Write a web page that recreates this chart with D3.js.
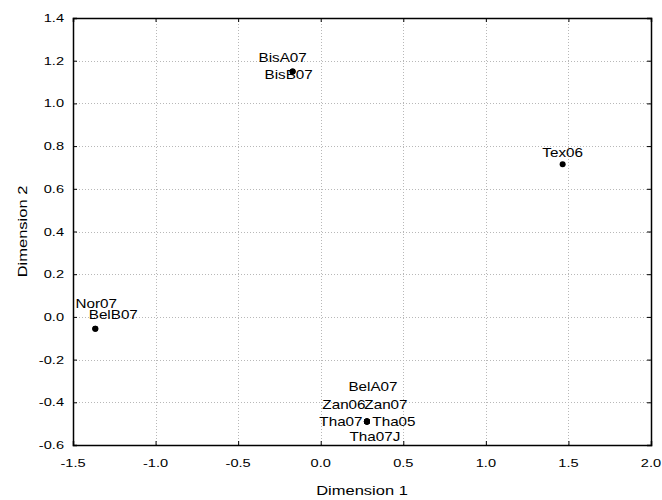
<!DOCTYPE html>
<html>
<head>
<meta charset="utf-8">
<script src="https://cdn.jsdelivr.net/npm/d3@7"></script>
<style>
  html, body { margin: 0; padding: 0; background: #fff; }
  svg { display: block; font-family: "Liberation Sans", Arial, sans-serif; }
</style>
</head>
<body>
<svg id="chart" width="662" height="500"></svg>
<script>
// ---- data ----
const names = ["BisA07", "BisB07", "Tex06", "Nor07", "BelB07",
               "BelA07", "Zan06", "Zan07", "Tha07", "Tha05", "Tha07J"];
const dim1 = [-0.17, -0.17, 1.465, -1.365, -1.365, 0.28, 0.28, 0.28, 0.28, 0.28, 0.28];
const dim2 = [1.15, 1.15, 0.715, -0.055, -0.055, -0.49, -0.49, -0.49, -0.49, -0.49, -0.49];
const xTicks = [-1.5, -1.0, -0.5, 0.0, 0.5, 1.0, 1.5, 2.0];
const yTicks = [-0.6, -0.4, -0.2, 0.0, 0.2, 0.4, 0.6, 0.8, 1.0, 1.2, 1.4];
const xTitle = "Dimension 1";
const yTitle = "Dimension 2";

// ---- layout (label offsets in px: centre x, baseline y relative to the point) ----
const labelDx = [-10, -4, 0, 1, 18, 6, -23, 19, -26, 27, 8];
const labelDy = [-9, 8, -7.5, -21, -10, -31, -13, -13, 4.5, 4.5, 19.5];

(function () {
const svg = d3.select("#chart");
const mLeft = 73, mRight = 651, mTop = 18, mBottom = 445;
const sx = 1.27; // horizontal text stretch

const x = d3.scaleLinear().domain([-1.5, 2.0]).range([mLeft, mRight]);
const y = d3.scaleLinear().domain([-0.6, 1.4]).range([mBottom, mTop]);

function stretchedText(g, px, py, str, size, anchor) {
  return g.append("text")
    .attr("transform", `translate(${px},${py}) scale(${sx},1)`)
    .attr("text-anchor", anchor)
    .attr("font-size", size)
    .attr("fill", "#000")
    .text(str);
}

// grid
const grid = svg.append("g");
grid.selectAll("line.gx").data(xTicks.slice(1, -1)).join("line")
  .attr("x1", d => Math.round(x(d)) + 0.5).attr("x2", d => Math.round(x(d)) + 0.5)
  .attr("y1", mTop).attr("y2", mBottom)
  .attr("stroke", "#b8b8b8").attr("stroke-width", 1).attr("stroke-dasharray", "1,2");
grid.selectAll("line.gy").data(yTicks.slice(1, -1)).join("line")
  .attr("y1", d => Math.round(y(d)) + 0.5).attr("y2", d => Math.round(y(d)) + 0.5)
  .attr("x1", mLeft).attr("x2", mRight)
  .attr("stroke", "#b8b8b8").attr("stroke-width", 1).attr("stroke-dasharray", "1,2");

// axes with inward ticks
const fmt = v => d3.format(".1f")(v).replace("\u2212", "-");
const axB = svg.append("g").attr("transform", `translate(0,${mBottom})`)
  .call(d3.axisBottom(x).tickValues(xTicks).tickSize(-4).tickFormat(""));
const axT = svg.append("g").attr("transform", `translate(0,${mTop})`)
  .call(d3.axisTop(x).tickValues(xTicks).tickSize(-4).tickFormat(""));
const axL = svg.append("g").attr("transform", `translate(${mLeft},0)`)
  .call(d3.axisLeft(y).tickValues(yTicks).tickSize(-4).tickFormat(""));
const axR = svg.append("g").attr("transform", `translate(${mRight},0)`)
  .call(d3.axisRight(y).tickValues(yTicks).tickSize(-4).tickFormat(""));
[axB, axT, axL, axR].forEach(a => {
  a.select(".domain").attr("stroke", "#000").attr("stroke-width", 1.5);
  a.selectAll(".tick line").attr("stroke", "#000");
});

// tick labels
const lab = svg.append("g");
xTicks.forEach(t => stretchedText(lab, x(t), 467, fmt(t), 11.5, "middle"));
yTicks.forEach(t => stretchedText(lab, 64, y(t) + 4, fmt(t), 11.5, "end"));

// axis titles
stretchedText(lab, (mLeft + mRight) / 2, 495, xTitle, 13, "middle");
svg.append("text")
  .attr("transform", `translate(27,${(mTop + mBottom) / 2}) rotate(-90) scale(${sx},1)`)
  .attr("text-anchor", "middle").attr("font-size", 13).attr("fill", "#000")
  .text(yTitle);

// points
const idx = d3.range(names.length);
svg.append("g").selectAll("circle").data(idx).join("circle")
  .attr("cx", i => x(dim1[i])).attr("cy", i => y(dim2[i]))
  .attr("r", 3).attr("fill", "#000");

// point labels
const pl = svg.append("g");
idx.forEach(i => stretchedText(pl, x(dim1[i]) + labelDx[i], y(dim2[i]) + labelDy[i], names[i], 12, "middle"));
})();
</script>
</body>
</html>
